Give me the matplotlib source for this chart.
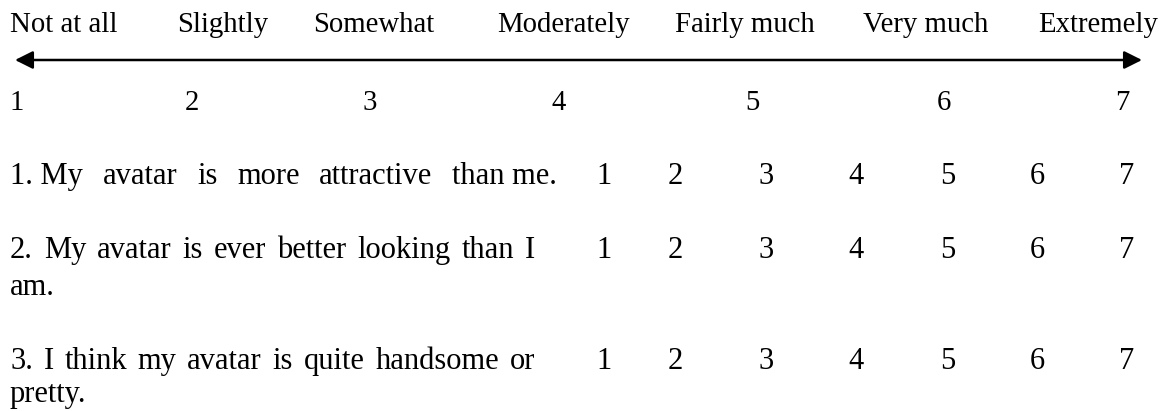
import matplotlib.pyplot as plt

# Scale anchors (top of the figure)
scale_labels = ['Not at all', 'Slightly', 'Somewhat', 'Moderately',
                'Fairly much', 'Very much', 'Extremely']
scale_values = [1, 2, 3, 4, 5, 6, 7]

# Questionnaire items (each line drawn separately)
item_lines = [
    ['1. My avatar is more attractive than me.'],
    ['2. My avatar is ever better looking than I', 'am.'],
    ['3. I think my avatar is quite handsome or', 'pretty.'],
]

# Layout, in pixels of the 1166x411 canvas
W, H = 1166, 411
label_x = [10, 177, 313, 497, 675, 863, 1038]
scale_num_x = [10, 185, 362, 552, 745, 937, 1115]
item_num_x = [596, 668, 758, 848, 940, 1030, 1119]
label_y = 32
arrow_y = 60
scale_num_y = 110
item_y = [[184], [258, 295], [369, 402]]
justify_end = [557, 535, 535]

FONT = dict(family='Liberation Serif', fontsize=20.7, color='black')
ITEM_FONT = dict(FONT, fontsize=22)

fig = plt.figure(figsize=(W / 100, H / 100), dpi=100)
ax = fig.add_axes([0, 0, 1, 1])
ax.set_xlim(0, W)
ax.set_ylim(H, 0)
ax.axis('off')


def draw_justified(tokens, x0, x1, y):
    # spread the tokens so the line fills the cell, like Word's justify
    renderer = fig.canvas.get_renderer()
    objs = [ax.text(0, y, t, va='baseline', ha='left', **ITEM_FONT) for t in tokens]
    widths = [o.get_window_extent(renderer).width for o in objs]
    gap = (x1 - x0 - sum(widths)) / (len(tokens) - 1)
    x = x0
    for o, w in zip(objs, widths):
        o.set_x(x)
        x += w + gap


# top labels
for lab, x in zip(scale_labels, label_x):
    ax.text(x, label_y, lab, va='baseline', ha='left', **FONT)

# double-headed arrow
ax.annotate('', xy=(1142, arrow_y), xytext=(15, arrow_y),
            arrowprops=dict(arrowstyle='<|-|>,head_length=0.4,head_width=0.2',
                            mutation_scale=27, lw=1.8, color='black',
                            shrinkA=0, shrinkB=0))

# scale numbers
for v, x in zip(scale_values, scale_num_x):
    ax.text(x, scale_num_y, str(v), va='baseline', ha='left', **FONT)

# items with their rating options
for i, lines in enumerate(item_lines):
    for j, line in enumerate(lines):
        if j == 0:
            words = line.split(' ')
            if i == 0:
                # "1. My" and "than me." keep normal spacing in the original
                words = [' '.join(words[:2])] + words[2:-2] + [' '.join(words[-2:])]
            draw_justified(words, 10, justify_end[i], item_y[i][j])
        else:
            ax.text(10, item_y[i][j], line, va='baseline', ha='left', **ITEM_FONT)
    for v, x in zip(scale_values, item_num_x):
        ax.text(x, item_y[i][0], str(v), va='baseline', ha='left', **ITEM_FONT)

fig.savefig('out.png', dpi=100)
